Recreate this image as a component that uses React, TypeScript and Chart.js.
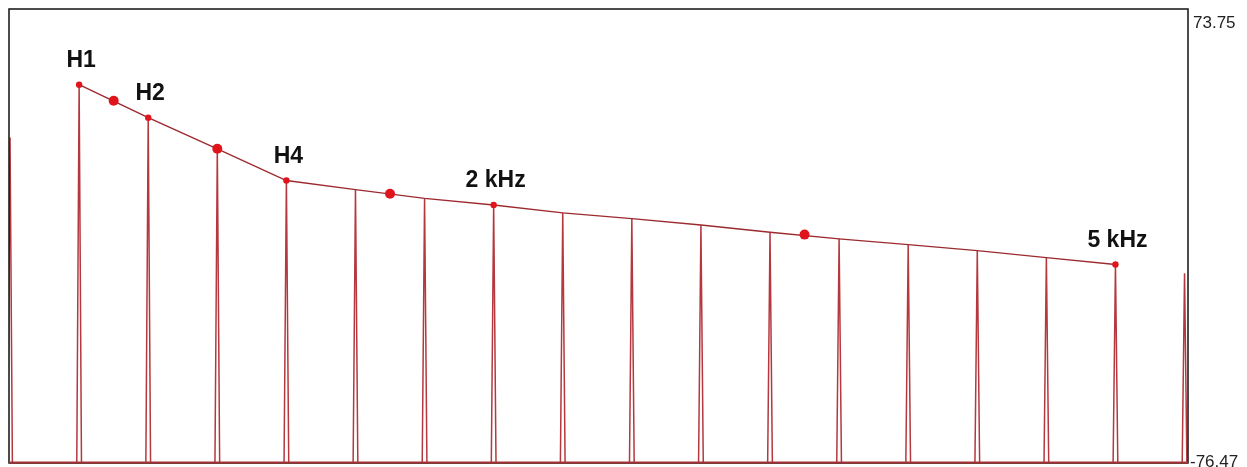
import React, { useEffect, useRef } from "react";
import { Chart, registerables } from "chart.js";

Chart.register(...registerables);

// Harmonic numbers of the spectral lines and their peak levels (dB)
const harmonics = [0, 1, 2, 3, 4, 5, 6, 7, 8, 9, 10, 11, 12, 13, 14, 15, 16, 17];
const peakLevels = [31.2, 48.7, 37.8, 27.5, 17.0, 14.0, 11.1, 8.9, 6.3, 4.4, 2.3, -0.1, -2.3, -4.2, -6.2, -8.5, -10.8, -13.7];

// Envelope line across H1..H16
const envelopeHarmonics = [1, 2, 3, 4, 5, 6, 7, 8, 9, 10, 11, 12, 13, 14, 15, 16];
const envelopeLevels = [48.7, 37.8, 27.5, 17.0, 14.0, 11.1, 8.9, 6.3, 4.4, 2.3, -0.1, -2.3, -4.2, -6.2, -8.5, -10.8];

// Markers on the envelope
const smallMarkerX = [1, 2, 4, 7, 16];
const smallMarkerY = [48.7, 37.8, 17.0, 8.9, -10.8];
const bigMarkerX = [1.5, 3, 5.5, 11.5];
const bigMarkerY = [43.4, 27.5, 12.6, -0.9];

// Annotations
const labelTexts = ["H1", "H2", "H4", "2 kHz", "5 kHz"];
const labelHarmonics = [1, 2, 4, 7, 16];
const labelLevels = [48.7, 37.8, 17.0, 8.9, -10.8];

// Right-side level labels (max, min)
const yTickLabels = [73.75, -76.47];

export default function App() {
  const ref = useRef<HTMLCanvasElement>(null);

  useEffect(() => {
    if (!ref.current) return;
    const yMax = yTickLabels[0];
    const yMin = yTickLabels[1];

    const spikeData: any[] = [];
    harmonics.forEach((h, i) => {
      spikeData.push({ x: h - 0.034, y: yMin });
      spikeData.push({ x: h, y: peakLevels[i] });
      spikeData.push({ x: h + 0.034, y: yMin });
      spikeData.push({ x: h + 0.05, y: null });
    });

    const overlay = {
      id: "overlay",
      beforeDatasetsDraw(chart: any) {
        const { ctx, chartArea } = chart;
        ctx.save();
        ctx.fillStyle = "#ffffff";
        ctx.fillRect(chartArea.left, chartArea.top, chartArea.right - chartArea.left, chartArea.bottom - chartArea.top);
        ctx.restore();
      },
      afterDraw(chart: any) {
        const { ctx, chartArea, scales } = chart;
        const xs = scales.x;
        const ys = scales.y;
        ctx.save();
        // frame
        ctx.strokeStyle = "#111111";
        ctx.lineWidth = 1.5;
        ctx.strokeRect(chartArea.left, chartArea.top, chartArea.right - chartArea.left, chartArea.bottom - chartArea.top);
        // red baseline
        ctx.strokeStyle = "#a83030";
        ctx.lineWidth = 2;
        ctx.beginPath();
        ctx.moveTo(chartArea.left, chartArea.bottom - 0.5);
        ctx.lineTo(chartArea.right, chartArea.bottom - 0.5);
        ctx.stroke();
        // annotations
        ctx.fillStyle = "#111111";
        ctx.font = "bold 23px 'Liberation Sans', Arial, sans-serif";
        ctx.textAlign = "center";
        ctx.textBaseline = "alphabetic";
        labelTexts.forEach((t, i) => {
          const px = xs.getPixelForValue(labelHarmonics[i]);
          const py = ys.getPixelForValue(labelLevels[i]);
          ctx.fillText(t, px + 2, py - 18);
        });
        // level labels on the right
        ctx.font = "17px 'Liberation Sans', Arial, sans-serif";
        ctx.fillStyle = "#222222";
        ctx.textAlign = "left";
        ctx.fillText(String(yTickLabels[0]), chartArea.right + 5, ys.getPixelForValue(yTickLabels[0]) + 19);
        ctx.fillText(String(yTickLabels[1]), chartArea.right + 2, ys.getPixelForValue(yTickLabels[1]) + 4);
        ctx.restore();
      },
    };

    const chart = new Chart(ref.current, {
      type: "line",
      data: {
        datasets: [
          {
            label: "markersBig",
            data: bigMarkerX.map((x, i) => ({ x, y: bigMarkerY[i] })),
            showLine: false,
            pointRadius: 5,
            pointBackgroundColor: "#e0141c",
            pointBorderColor: "#e0141c",
            pointBorderWidth: 0,
            order: 0,
          },
          {
            label: "markersSmall",
            data: smallMarkerX.map((x, i) => ({ x, y: smallMarkerY[i] })),
            showLine: false,
            pointRadius: 3.2,
            pointBackgroundColor: "#e0141c",
            pointBorderColor: "#e0141c",
            pointBorderWidth: 0,
            order: 1,
          },
          {
            label: "envelope",
            data: envelopeHarmonics.map((x, i) => ({ x, y: envelopeLevels[i] })),
            borderColor: "#9c2a2e",
            borderWidth: 1.4,
            pointRadius: 0,
            tension: 0,
            order: 2,
          },
          {
            label: "spectrum",
            data: spikeData,
            borderColor: "#b4383e",
            borderWidth: 1.5,
            pointRadius: 0,
            tension: 0,
            spanGaps: false,
            order: 3,
          },
        ],
      },
      options: {
        animation: false,
        responsive: true,
        maintainAspectRatio: false,
        layout: { autoPadding: false, padding: { left: 1, top: 1, right: 51, bottom: 4 } },
        plugins: { legend: { display: false }, tooltip: { enabled: false } },
        scales: {
          x: { type: "linear", min: -0.015, max: 17.05, display: false },
          y: { type: "linear", min: yMin, max: yMax, display: false },
        },
      },
      plugins: [overlay],
    });
    return () => chart.destroy();
  }, []);

  return (
    <div style={{ width: "100%", height: 459 }}>
      <canvas ref={ref} />
    </div>
  );
}
